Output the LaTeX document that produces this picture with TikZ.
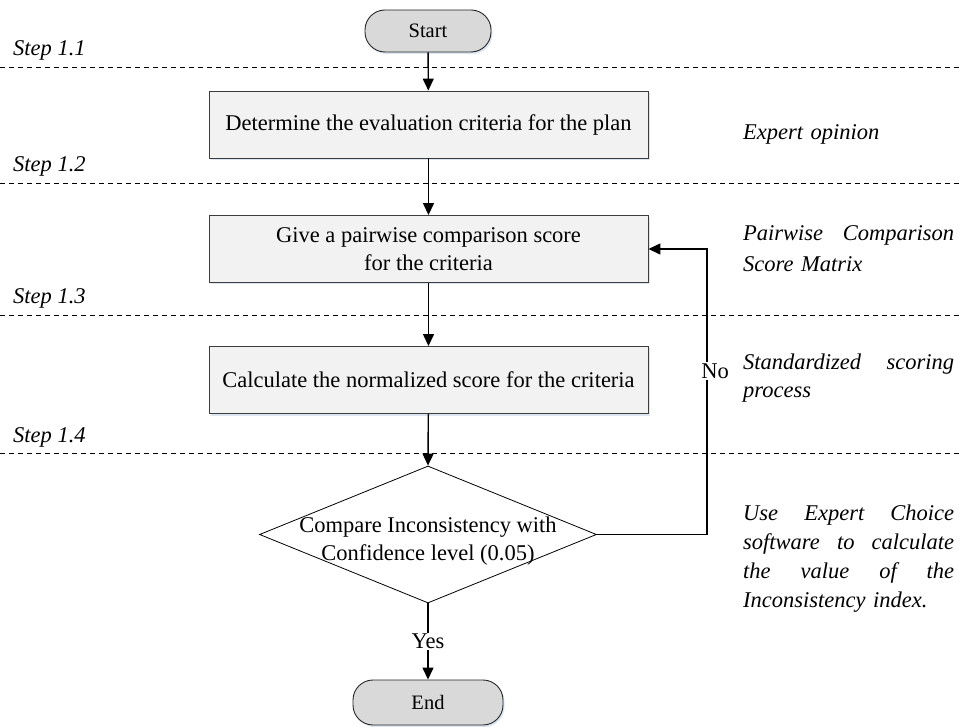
\documentclass[tikz,border=0pt]{standalone}
\usepackage{fontspec}
\setmainfont{Liberation Serif}
\usetikzlibrary{arrows.meta,shapes.geometric,shadows}

\definecolor{boxfill}{RGB}{242,242,242}
\definecolor{termfill}{RGB}{217,217,217}
\definecolor{boxline}{RGB}{60,60,60}
\definecolor{shadowc}{RGB}{196,212,234}

% one justified line of a note (words separated by \hfill)
\newcommand{\fullline}[1]{\leavevmode\hbox to 211pt{#1}}

\begin{document}
\begin{tikzpicture}[x=1pt,y=-1pt,
  txt/.style={font=\fontsize{22.5}{28}\selectfont},
  softshadow/.style={drop shadow={shadow xshift=1.5pt,shadow yshift=-2pt,fill=shadowc,opacity=0.6}},
  procbox/.style={draw=boxline,fill=boxfill,line width=0.9pt,minimum width=439pt,
    minimum height=67pt,inner sep=0pt,align=center,txt,softshadow},
  terminal/.style={draw=black!85,fill=termfill,line width=0.9pt,rounded corners=20pt,
    inner sep=0pt,font=\fontsize{20.5}{24}\selectfont,softshadow},
  decision/.style={draw=black,diamond,aspect=2.46,minimum width=337pt,minimum height=137pt,
    inner sep=0pt,line width=0.8pt},
  flow/.style={line width=1.4pt,-{Triangle[width=11pt,length=12pt]}},
  stepline/.style={line width=0.9pt,dash pattern=on 5pt off 4pt},
  steplabel/.style={font=\fontsize{22.5}{27}\selectfont\itshape,anchor=base west,inner sep=0pt},
  note/.style={font=\fontsize{22.5}{29.3}\selectfont\itshape,anchor=base west,inner sep=0pt,
    text width=211pt,align=left},
  branch/.style={fill=white,txt,inner sep=1.5pt}
]
\useasboundingbox (0,0) rectangle (959,727);

% step separators
\foreach \yy/\lab in {67/1.1,183/1.2,315/1.3,453/1.4}{
  \draw[stepline] (0,\yy) -- (959,\yy);
  \node[steplabel] (step\lab) at (13,\yy-11) {Step \lab};
}

% flow nodes
\node[terminal,minimum width=126pt,minimum height=42pt] (start) at (428,31) {Start};
\node[procbox] (b1) at (428.5,124.5) {Determine the evaluation criteria for the plan};
\node[procbox] (b2) at (428.5,249) {Give a pairwise comparison score\\for the criteria};
\node[procbox] (b3) at (428.5,380) {Calculate the normalized score for the criteria};
\node[decision] (dec) at (428,534.5) {};
\node[txt,align=center,inner sep=0pt] (dectext) at (428,541)
  {Compare Inconsistency with\\Confidence level (0.05)};
\node[terminal,minimum width=150pt,minimum height=45pt] (end) at (428,702.5) {End};

% connectors
\coordinate (loopc) at (707,534.5);
\draw[flow] (start) -- (b1);
\draw[flow] (b1) -- (b2);
\draw[flow] (b2) -- (b3);
\draw[flow] (b3) -- (dec.north);
\draw[flow] (dec.south) -- node[branch] (yes) {Yes} (end.north);
\draw[flow] (dec.east) -- (loopc) |- node[branch,pos=0.286,xshift=8pt] (no) {No} (b2.east);

% notes on the right
\node[note] (n1) at (743,140) {Expert opinion};
\node[note,font=\fontsize{22.5}{31}\selectfont\itshape] (n2) at (743,241)
  {\fullline{Pairwise\hfill Comparison}\\Score Matrix};
\node[note,font=\fontsize{22.5}{28}\selectfont\itshape] (n3) at (743,370)
  {\fullline{Standardized\hfill scoring}\\process};
\node[note] (n4) at (743,520)
  {\fullline{Use\hfill Expert\hfill Choice}\\
   \fullline{software\hfill to\hfill calculate}\\
   \fullline{the\hfill value\hfill of\hfill the}\\
   Inconsistency index.};
\end{tikzpicture}
\end{document}
